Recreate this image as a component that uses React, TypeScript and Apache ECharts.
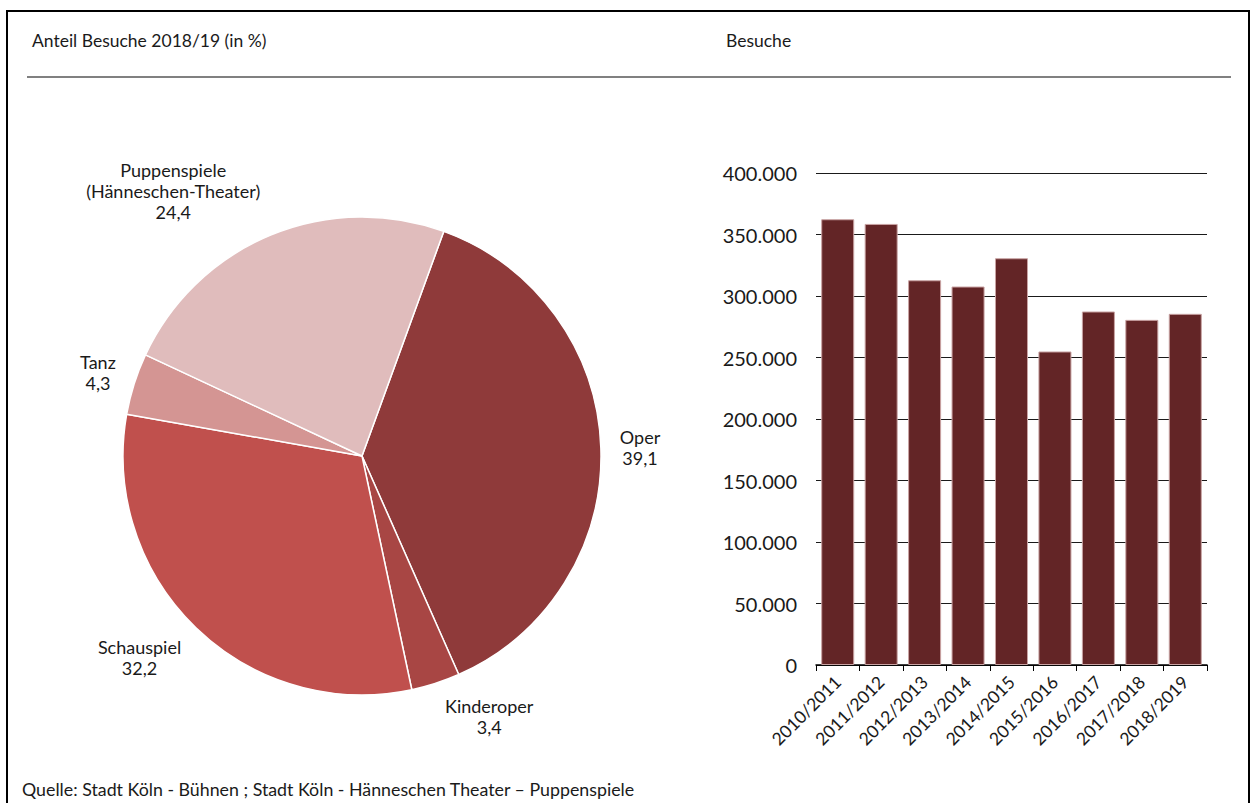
import React, { useEffect, useRef } from "react";
import * as echarts from "echarts";

const pieNames = ["Oper", "Kinderoper", "Schauspiel", "Tanz", "Puppenspiele\n(Hänneschen-Theater)"];
const pieValues = [39.1, 3.4, 32.2, 4.3, 24.4];
const pieColors = ["#8f3a3a", "#a84644", "#c0504d", "#d49593", "#e0bcbc"];
const labelNudgeY = [0, 20, 20, -7, -31];

const seasons = ["2010/2011", "2011/2012", "2012/2013", "2013/2014", "2014/2015", "2015/2016", "2016/2017", "2017/2018", "2018/2019"];
const visits = [362400, 358600, 312800, 307700, 330700, 254900, 287400, 280600, 285500];

const FONT = "Lato";

function fmtDE(v: number): string {
  const s = Math.round(v).toString();
  return s.replace(/\B(?=(\d{3})+(?!\d))/g, ".");
}

export default function App() {
  const ref = useRef<HTMLDivElement>(null);
  useEffect(() => {
    if (!ref.current) return;
    const chart = echarts.init(ref.current, undefined, { renderer: "svg" });
    chart.setOption({
      animation: false,
      backgroundColor: "#fff",
      textStyle: { fontFamily: FONT, color: "#1a1a1a" },
      graphic: [
        { type: "rect", shape: { x: 7, y: 11, width: 1242, height: 820 }, style: { fill: "none", stroke: "#000", lineWidth: 2 } },
        { type: "line", shape: { x1: 27, y1: 77, x2: 1231, y2: 77 }, style: { stroke: "#808080", lineWidth: 2 } },
        { type: "text", x: 32, y: 40, style: { text: "Anteil Besuche 2018/19 (in %)", font: `17.5px ${FONT}`, fill: "#1a1a1a", verticalAlign: "middle" } },
        { type: "text", x: 726, y: 40, style: { text: "Besuche", font: `17.5px ${FONT}`, fill: "#1a1a1a", verticalAlign: "middle" } },
        { type: "text", x: 22, y: 789, style: { text: "Quelle: Stadt Köln - Bühnen ; Stadt Köln - Hänneschen Theater – Puppenspiele", font: `17.8px ${FONT}`, fill: "#1a1a1a", verticalAlign: "middle" } },
      ],
      grid: { left: 816, right: 44, top: 173, bottom: 138 },
      xAxis: {
        type: "category",
        data: seasons,
        axisLine: { lineStyle: { color: "#000", width: 1.5 } },
        axisTick: { show: true, length: 6, lineStyle: { color: "#000" } },
        axisLabel: { rotate: 45, fontSize: 17.5, color: "#1a1a1a", margin: 14, fontFamily: FONT },
      },
      yAxis: {
        type: "value",
        min: 0,
        max: 400000,
        interval: 50000,
        axisLine: { show: false },
        axisTick: { show: false },
        splitLine: { lineStyle: { color: "#1a1a1a", width: 1.2 } },
        axisLabel: { fontSize: 20, color: "#1a1a1a", margin: 19, fontFamily: FONT, formatter: (v: number) => fmtDE(v) },
      },
      series: [
        {
          type: "pie",
          center: [362, 456],
          radius: 239,
          startAngle: 70,
          clockwise: true,
          itemStyle: { borderColor: "#fff", borderWidth: 1.5 },
          label: {
            show: true,
            position: "outside",
            fontSize: 18,
            lineHeight: 21,
            color: "#1a1a1a",
            fontFamily: FONT,
            formatter: (p: any) => `${p.name}\n${String(p.value).replace(".", ",")}`,
          },
          labelLine: { show: false, length: 14, length2: 0 },
          labelLayout: (p: any) => ({
            x: p.labelRect.x + p.labelRect.width / 2,
            y: p.labelRect.y + p.labelRect.height / 2 + labelNudgeY[p.dataIndex],
            align: "center",
            verticalAlign: "middle",
          }),
          data: pieNames.map((n, i) => ({ name: n, value: pieValues[i], itemStyle: { color: pieColors[i] } })),
        },
        {
          type: "bar",
          data: visits,
          barCategoryGap: "24%",
          itemStyle: { color: "#632526", borderColor: "#c9a3a3", borderWidth: 1 },
        },
      ],
    });
    return () => chart.dispose();
  }, []);
  return <div ref={ref} style={{ position: "absolute", left: 0, top: 0, width: 1251, height: 803 }} />;
}
